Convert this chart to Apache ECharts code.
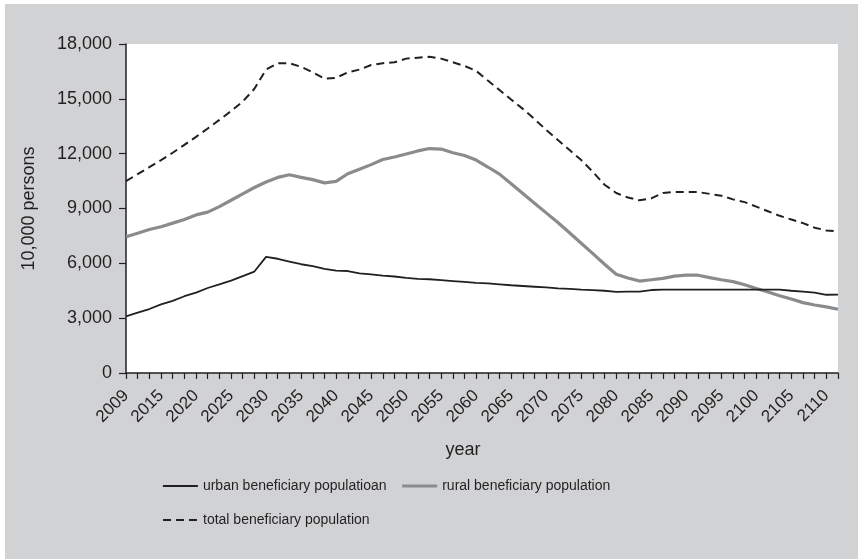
<!DOCTYPE html>
<html>
<head>
<meta charset="utf-8">
<script src="https://cdn.jsdelivr.net/npm/echarts@6/dist/echarts.min.js"></script>
<style>
  html, body { margin: 0; padding: 0; background: #ffffff; }
  #chart { width: 858px; height: 559px; }
</style>
</head>
<body>
<div id="chart"></div>
<script>
// ---- data ----
const tickLabels = ['2009','2015','2020','2025','2030','2035','2040','2045','2050','2055','2060',
                    '2065','2070','2075','2080','2085','2090','2095','2100','2105','2110'];
const pointCount = 62; // category points on the x axis; every 3rd carries a label

const urban = [3100,3300,3500,3750,3950,4200,4400,4650,4850,5050,5300,5550,
               6350,6250,6100,5950,5850,5700,5600,5580,5450,5400,5330,5280,
               5200,5150,5130,5080,5030,4980,4930,4900,4850,4800,4760,4720,
               4680,4630,4600,4560,4530,4500,4440,4450,4450,4540,4560,4560,
               4560,4560,4560,4560,4560,4560,4560,4560,4560,4500,4450,4400,4280,4290];
const rural = [7450,7650,7850,8000,8200,8400,8650,8800,9100,9450,9800,10150,
               10450,10700,10850,10700,10580,10400,10480,10900,11150,11400,11680,11820,
               11980,12150,12280,12250,12050,11900,11650,11270,10880,10350,9820,9290,
               8760,8230,7670,7100,6530,5950,5400,5200,5030,5100,5180,5300,
               5350,5350,5220,5100,5000,4830,4620,4430,4230,4050,3850,3720,3620,3490];
const total = [10500,10880,11260,11650,12050,12480,12920,13380,13850,14330,14850,15550,
               16600,16950,16950,16750,16450,16100,16150,16450,16600,16850,16950,17000,
               17200,17250,17300,17200,17000,16800,16530,16000,15480,14960,14450,13890,
               13300,12750,12200,11650,11000,10300,9850,9600,9450,9550,9850,9900,
               9900,9900,9800,9700,9500,9350,9100,8850,8600,8400,8200,7950,7800,7750];

const seriesNames = ['urban beneficiary populatioan', 'rural beneficiary population', 'total beneficiary population'];

// categories: labelled every third point
const categories = [];
for (let i = 0; i < pointCount; i++) {
  categories.push(i % 3 === 0 ? tickLabels[i / 3] : '');
}

const ink = '#231f20';
const grey = '#8a8b8d';
const font = "'Liberation Sans', Arial, Helvetica, sans-serif";

const styles = [
  { color: ink, width: 1.8, type: 'solid' },
  { color: grey, width: 3.2, type: 'solid' },
  { color: ink, width: 2, type: [8, 5] }
];

const legendBase = {
  left: 162, padding: 0,
  itemWidth: 35, itemHeight: 14, itemGap: 14,
  itemStyle: { opacity: 0 },
  textStyle: { color: ink, fontSize: 14, fontFamily: font }
};
const legendItem = k => ({ name: seriesNames[k], lineStyle: Object.assign({}, styles[k]) });

const chart = echarts.init(document.getElementById('chart'), null, { renderer: 'canvas' });
chart.setOption({
  animation: false,
  backgroundColor: '#ffffff',
  graphic: [{
    type: 'rect', z: -10, silent: true,
    shape: { x: 5, y: 4, width: 853, height: 555 },
    style: { fill: '#d1d2d4' }
  }],
  grid: {
    left: 126, right: 20, top: 44, bottom: 186,
    show: true, backgroundColor: '#ffffff', borderWidth: 0
  },
  xAxis: {
    type: 'category',
    data: categories,
    boundaryGap: false,
    name: 'year',
    nameLocation: 'middle',
    nameGap: 68,
    nameTextStyle: { color: ink, fontSize: 18, fontFamily: font, padding: [0, 38, 0, 0] },
    axisLine: { lineStyle: { color: ink, width: 1.5 } },
    axisTick: { interval: 0, length: 6, lineStyle: { color: ink, width: 1.2 } },
    axisLabel: { interval: 2, rotate: 45, margin: 20, color: ink, fontSize: 17, fontFamily: font },
    splitLine: { show: false }
  },
  yAxis: {
    type: 'value',
    min: 0, max: 18000, interval: 3000,
    name: '10,000 persons',
    nameLocation: 'middle',
    nameGap: 88,
    nameTextStyle: { color: ink, fontSize: 18, fontFamily: font },
    axisLine: { show: true, lineStyle: { color: ink, width: 1.5 } },
    axisTick: { show: true, length: 7, lineStyle: { color: ink, width: 1.2 } },
    axisLabel: {
      margin: 14, color: ink, fontSize: 18, fontFamily: font,
      formatter: v => String(v).replace(/\B(?=(\d{3})+(?!\d))/g, ',')
    },
    splitLine: { show: false }
  },
  legend: [
    Object.assign({}, legendBase, { data: [legendItem(0), legendItem(1)], top: 479 }),
    Object.assign({}, legendBase, { data: [legendItem(2)], top: 513 })
  ],
  series: [{
    name: seriesNames[0], type: 'line', data: urban,
    symbol: 'none', lineStyle: styles[0], itemStyle: { color: ink }, z: 4
  }, {
    name: seriesNames[1], type: 'line', data: rural,
    symbol: 'none', lineStyle: styles[1], itemStyle: { color: grey }, z: 3
  }, {
    name: seriesNames[2], type: 'line', data: total,
    symbol: 'none', lineStyle: styles[2], itemStyle: { color: ink }, z: 5
  }]
});
</script>
</body>
</html>
